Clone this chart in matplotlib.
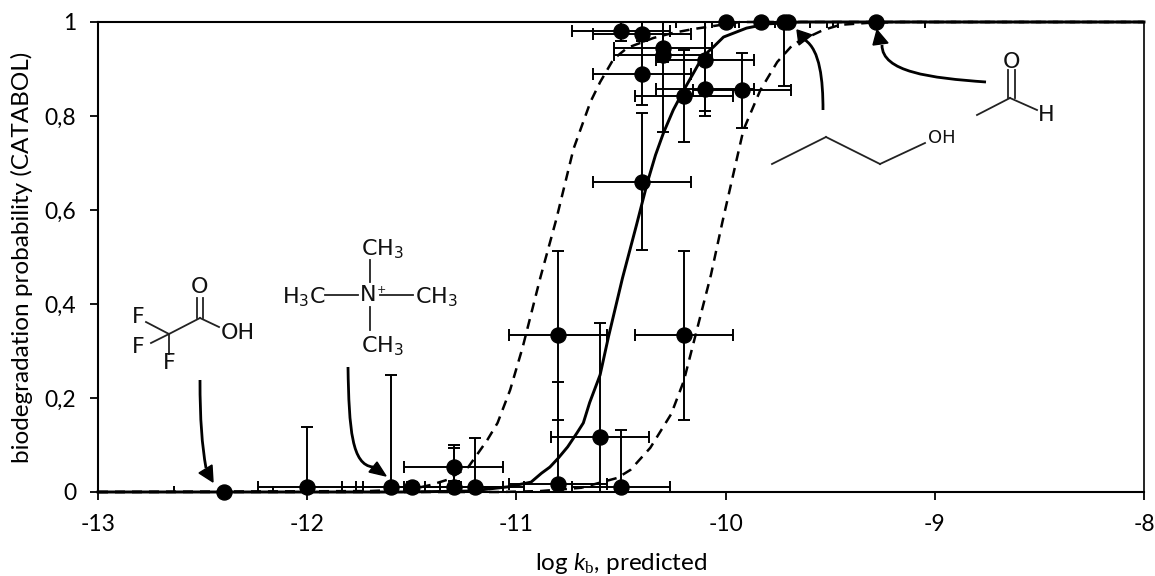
import matplotlib
matplotlib.use("Agg")
import matplotlib.pyplot as plt
from matplotlib.path import Path
from matplotlib.patches import PathPatch, Polygon

plt.rcParams['font.family'] = ['Lato', 'DejaVu Sans']
plt.rcParams['axes.unicode_minus'] = False
plt.rcParams['mathtext.fontset'] = 'custom'
plt.rcParams['mathtext.rm'] = 'Liberation Serif'
plt.rcParams['mathtext.it'] = 'Lato:italic'
plt.rcParams['mathtext.sf'] = 'DejaVu Sans'

# points
log_kb = [-12.4, -12.0, -11.6, -11.5, -11.3, -11.3, -11.2, -10.8, -10.8, -10.6, -10.5,
          -10.2, -10.4, -10.5, -10.4, -10.4, -10.3, -10.3, -10.2, -10.1, -10.1, -9.92,
          -10.0, -9.83, -9.72, -9.7, -9.28]
prob = [0.0, 0.011, 0.011, 0.011, 0.054, 0.011, 0.011, 0.333, 0.018, 0.117, 0.011,
        0.333, 0.66, 0.98, 0.975, 0.89, 0.945, 0.93, 0.843, 0.92, 0.857, 0.855,
        1.0, 1.0, 1.0, 1.0, 1.0]
err_low = [0.0, 0.011, 0.011, 0.011, 0.03, 0.011, 0.011, 0.18, 0.018, 0.117, 0.011,
           0.18, 0.145, 0.02, 0.015, 0.067, 0.03, 0.164, 0.098, 0.11, 0.057, 0.081,
           0.0, 0.0, 0.136, 0.0, 0.0]
err_high = [0.0, 0.128, 0.239, 0.011, 0.046, 0.083, 0.104, 0.18, 0.216, 0.243, 0.12,
            0.18, 0.146, 0.02, 0.025, 0.11, 0.055, 0.07, 0.097, 0.08, 0.143, 0.079,
            0.0, 0.0, 0.0, 0.0, 0.0]
x_err = 0.235

fit_x = [-13, -11.55, -11.22, -11.04, -10.93, -10.88, -10.84, -10.8, -10.755, -10.71, -10.68,
         -10.65, -10.6, -10.56, -10.493, -10.426, -10.373, -10.335, -10.297, -10.25, -10.2,
         -10.154, -10.11, -10.058, -10.01, -9.9, -9.8, -9.64, -8]
fit_y = [0, 0, 0.002, 0.011, 0.021, 0.04, 0.053, 0.072, 0.096, 0.126, 0.147,
         0.19, 0.249, 0.33, 0.455, 0.568, 0.66, 0.717, 0.764, 0.813, 0.855,
         0.891, 0.926, 0.947, 0.968, 0.987, 0.996, 1, 1]

low_x = [-13, -11.7, -11.5, -11.41, -11.33, -11.23, -11.14, -11.09, -11.03, -10.97, -10.885,
         -10.81, -10.727, -10.646, -10.6, -10.536, -10.47, -10.345, -10.25, -10.154, -9.93, -8]
low_y = [0, 0.002, 0.006, 0.015, 0.026, 0.053, 0.11, 0.147, 0.217, 0.308, 0.457,
         0.579, 0.73, 0.83, 0.872, 0.921, 0.945, 0.966, 0.977, 0.985, 1, 1]

high_x = [-13, -11.08, -10.885, -10.69, -10.517, -10.455, -10.36, -10.26, -10.2, -10.135, -10.07,
          -10.015, -9.915, -9.834, -9.753, -9.676, -9.533, -9.452, -9.323, -9.165, -8]
high_y = [0, 0, 0.002, 0.009, 0.03, 0.047, 0.094, 0.166, 0.236, 0.349, 0.462,
          0.575, 0.77, 0.855, 0.915, 0.953, 0.983, 0.994, 0.998, 1, 1]

x_ticks = [-13, -12, -11, -10, -9, -8]
y_ticks = [0, 0.2, 0.4, 0.6, 0.8, 1]
y_tick_labels = ['0', '0,2', '0,4', '0,6', '0,8', '1']

fig = plt.figure(figsize=(11.55, 5.76), dpi=100)
ax = fig.add_axes([98 / 1155, 1 - 492 / 576, 1046 / 1155, 470 / 576])

ax.plot(fit_x, fit_y, color='black', lw=2.1, clip_on=False, zorder=3)
ax.plot(low_x, low_y, color='black', lw=1.8, ls=(0, (4, 2.8)), clip_on=False, zorder=3)
ax.plot(high_x, high_y, color='black', lw=1.8, ls=(0, (4, 2.8)), clip_on=False, zorder=3)
eb = ax.errorbar(log_kb, prob, yerr=[err_low, err_high], xerr=x_err, fmt='o', color='black',
                 ms=10.8, elinewidth=1.4, capsize=4.3, capthick=1.4, zorder=4)
eb[0].set_clip_on(False)

ax.set_xlim(-13, -8)
ax.set_ylim(0, 1)
ax.set_xticks(x_ticks)
ax.set_yticks(y_ticks)
ax.set_yticklabels(y_tick_labels)
ax.tick_params(axis='both', labelsize=16.5, length=5.5, width=1.3)
ax.tick_params(axis='x', pad=10.5)
ax.tick_params(axis='y', pad=10)
for side in ['left', 'bottom', 'top']:
    ax.spines[side].set_linewidth(1.5)
ax.spines['right'].set_linewidth(1.2)
ax.set_xlabel(r'log $\mathit{k}_{\mathrm{b}}$, predicted', fontsize=17.5)
ax.set_ylabel('biodegradation probability (CATABOL)', fontsize=17.5)
ax.xaxis.set_label_coords(0.5, (492 - 564) / 470, transform=ax.transAxes)
ax.xaxis.label.set_va('center')
ax.yaxis.set_label_coords((22 - 98) / 1046, 0.5, transform=ax.transAxes)
ax.yaxis.label.set_va('center')

# overlay in pixels for the structures and arrows
ov = fig.add_axes([0, 0, 1, 1], facecolor='none')
ov.set_xlim(0, 1155)
ov.set_ylim(576, 0)
ov.axis('off')


def bonds(segments, lw=1.3, color='#222222'):
    for seg in segments:
        ov.plot([p[0] for p in seg], [p[1] for p in seg], color=color, lw=lw)


def arrow(start, c1, c2, end, head):
    p = Path([start, c1, c2, end], [Path.MOVETO, Path.CURVE4, Path.CURVE4, Path.CURVE4])
    ov.add_patch(PathPatch(p, fc='none', ec='black', lw=2))
    ov.add_patch(Polygon(head, closed=True, fc='black', ec='black'))


def label(x, y, s, size=16):
    ov.text(x, y, s, fontsize=size, family='DejaVu Sans', ha='center', va='center', color='#111111')


sub3 = r'$_{\mathsf{3}}$'

# trifluoroacetic acid
bonds([[(146, 322), (169, 334)], [(169, 334), (200, 318)], [(169, 334), (169, 354)],
       [(151, 343), (169, 334)], [(200, 318), (219, 327)],
       [(197, 298), (197, 318)], [(203, 298), (203, 318)]])
label(200, 287, 'O')
label(138, 317, 'F')
label(138, 347, 'F')
label(169, 363, 'F')
label(238, 333, 'OH')

# tetramethylammonium
bonds([[(370, 260), (370, 282)], [(370, 307), (370, 330)], [(325, 295), (358, 295)], [(380, 295), (413, 295)]])
label(382, 249, 'CH' + sub3)
label(304, 297, 'H' + sub3 + 'C')
label(368, 295, 'N')
label(381, 290, '+', size=8)
label(436, 297, 'CH' + sub3)
label(382, 346, 'CH' + sub3)

# butanol
bonds([[(772, 164), (826, 137)], [(826, 137), (880, 164)], [(880, 164), (925, 143)]])
label(942, 138, 'OH', size=13)

# acetaldehyde
bonds([[(977, 115), (1010, 98)], [(1010, 98), (1037, 110)], [(1008, 70), (1008, 98)], [(1015, 70), (1015, 98)]])
label(1011, 62, 'O')
label(1046, 115, 'H')

arrow((200, 380), (200, 420), (202, 445), (206, 468), [(213, 482), (199, 473), (212, 465)])
arrow((348, 367), (349, 430), (352, 465), (373, 467), [(386, 476), (369, 472), (377, 462)])
arrow((823, 110), (823, 80), (820, 50), (805, 40), [(797, 30), (799, 45), (812, 35)])
arrow((986, 82), (930, 78), (882, 72), (882, 45), [(877, 30), (873, 45), (888, 43)])

fig.savefig('out.png', dpi=100)
